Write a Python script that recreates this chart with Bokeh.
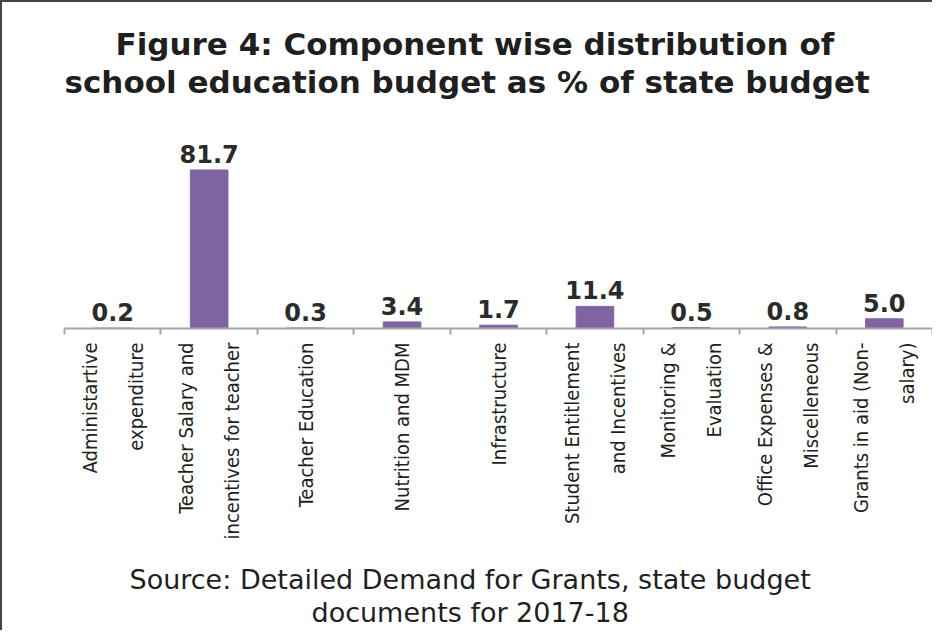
import math
from bokeh.plotting import figure
from bokeh.models import Range1d, FixedTicker, Title
from bokeh.core.properties import value
from bokeh.embed import file_html
from bokeh.resources import INLINE

# ---- data ----
categories = [
    "Administartive\nexpenditure",
    "Teacher Salary and\nincentives for teacher",
    "Teacher Education",
    "Nutrition and MDM",
    "Infrastructure",
    "Student Entitlement\nand Incentives",
    "Monitoring &\nEvaluation",
    "Office Expenses &\nMiscelleneous",
    "Grants in aid (Non-\nsalary)",
]
shares = [0.2, 81.7, 0.3, 3.4, 1.7, 11.4, 0.5, 0.8, 5.0]
title_lines = [
    "Figure 4: Component wise distribution of",
    "school education budget as % of state budget",
]
source_lines = [
    "Source: Detailed Demand for Grants, state budget",
    "documents for 2017-18",
]

n = len(categories)
centers = [i + 0.5 for i in range(n)]
bounds = list(range(n + 1))
value_labels = [f"{v:.1f}" for v in shares]

BAR = "#8064A2"
AXIS = "#a6a6a6"
TXT = "#1f1f1f"

p = figure(
    frame_width=868, frame_height=236,
    x_range=Range1d(0, n), y_range=Range1d(0, 121.6),
    output_backend="svg", toolbar_location=None,
    y_axis_location=None, title_location=None,
    min_border_left=62, min_border_right=0,
    min_border_top=90, min_border_bottom=302,
)
p.outline_line_color = None
p.grid.visible = False
p.styles = {"border-left": "2px solid #444444", "border-top": "2px solid #444444"}

p.vbar(x=centers, top=shares, width=0.39, bottom=0, fill_color=BAR, line_color=BAR)
p.text(x=centers, y=shares, text=value_labels,
       text_align="center", text_baseline="alphabetic", y_offset=-16,
       text_font=value("DejaVu Sans"), text_font_style="bold",
       text_font_size=value("24px"), text_color="#2b2b2b")

ax = p.xaxis[0]
ax.ticker = FixedTicker(ticks=centers, minor_ticks=bounds)
ax.major_label_overrides = {c: lab for c, lab in zip(centers, categories)}
ax.major_label_orientation = math.pi / 2
ax.major_tick_out = 0
ax.major_tick_in = 0
ax.minor_tick_out = 6
ax.minor_tick_in = 0
ax.axis_line_color = AXIS
ax.axis_line_width = 2
ax.minor_tick_line_color = AXIS
ax.minor_tick_line_width = 2
ax.major_label_text_font = "DejaVu Sans Condensed"
ax.major_label_text_font_size = "20px"
ax.major_label_text_line_height = 1.92
ax.major_label_text_color = TXT
ax.major_label_standoff = 8

# title: second line sits closest to the frame
t2 = Title(text=title_lines[1], align="left", offset=0, vertical_align="top", standoff=-18,
           text_font="DejaVu Sans", text_font_size="31px", text_font_style="bold",
           text_color=TXT)
p.add_layout(t2, "above")
t1 = Title(text=title_lines[0], align="left", offset=51, vertical_align="bottom", standoff=22,
           text_font="DejaVu Sans", text_font_size="31px", text_font_style="bold",
           text_color=TXT)
p.add_layout(t1, "above")

s1 = Title(text=source_lines[0], align="left", offset=65, vertical_align="bottom", standoff=38,
           text_font="DejaVu Sans", text_font_size="27px", text_font_style="normal",
           text_color=TXT)
p.add_layout(s1, "below")
s2 = Title(text=source_lines[1], align="left", offset=247, vertical_align="top", standoff=-33,
           text_font="DejaVu Sans", text_font_size="27px", text_font_style="normal",
           text_color=TXT)
p.add_layout(s2, "below")

open("out.html", "w").write(file_html(p, INLINE))
